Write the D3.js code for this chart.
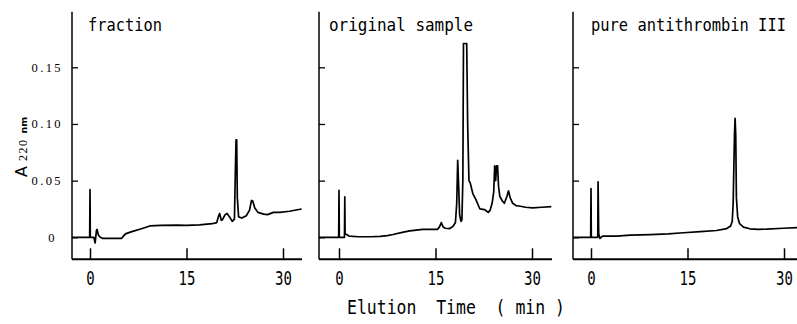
<!DOCTYPE html>
<html>
<head>
<meta charset="utf-8">
<script src="https://cdn.jsdelivr.net/npm/d3@7"></script>
<style>
body{margin:0;background:#fff}
.trace{fill:none;stroke:#000;stroke-width:1.7;stroke-linejoin:round}
.mono{font-family:"DejaVu Sans Mono",monospace;fill:#000}
</style>
</head>
<body>
<script>
var panelTitles = ["fraction", "original sample", "pure antithrombin III"];
var xTicks = [0, 15, 30];
var yTicks = [0, 0.05, 0.10, 0.15];
var yTickLabels = ["0", "0.05", "0.10", "0.15"];

// [time (min), A220]
var fractionTrace = [[-2.8,0],[-0.05,0],[0,0.042],[0.05,0],[0.6,0],[0.8,-0.005],[1.0,0.006],[1.1,0.007],[1.3,0.002],[1.6,0],
  [2,-0.001],[3,-0.001],[4.9,-0.001],[5.2,0.001],[5.5,0.003],[6.5,0.005],[8,0.0075],[9.3,0.0100],[11,0.0105],[13.5,0.0108],
  [15,0.0105],[17,0.011],[19,0.012],[19.7,0.013],[20.0,0.019],[20.15,0.021],[20.4,0.015],[20.6,0.0155],[21.0,0.020],[21.3,0.021],
  [21.7,0.018],[22.1,0.014],[22.45,0.016],[22.6,0.06],[22.7,0.086],[22.8,0.086],[22.9,0.035],[23.1,0.018],[23.6,0.017],[24.3,0.019],
  [24.8,0.024],[25.1,0.0325],[25.3,0.032],[25.6,0.026],[26.1,0.022],[27,0.0205],[27.6,0.020],[28.5,0.022],[29.5,0.022],[31,0.023],[32.9,0.025]];

var originalTrace = [[-3.1,0],[-0.05,0],[0,0.0415],[0.05,0],[0.85,0],[0.9,0.0356],[0.95,0.003],[1.2,0.0025],[1.6,0.001],[3,0.0005],
  [5,0.0005],[6.4,0.0008],[7.5,0.0015],[8.4,0.0025],[10,0.0045],[11,0.0056],[13,0.007],[15.3,0.007],[15.6,0.009],[15.9,0.013],
  [16.2,0.009],[16.5,0.008],[17.2,0.0077],[17.7,0.0095],[18.1,0.013],[18.3,0.03],[18.45,0.068],[18.6,0.045],[18.75,0.02],[18.95,0.014],
  [19.1,0.015],[19.25,0.05],[19.35,0.171],[19.85,0.171],[20.0,0.1],[20.2,0.05],[20.4,0.048],[20.8,0.0386],[21.3,0.033],[21.9,0.025],
  [22.6,0.0245],[23.2,0.022],[23.5,0.024],[23.8,0.030],[24.05,0.040],[24.2,0.063],[24.35,0.05],[24.5,0.063],[24.65,0.063],[24.8,0.045],
  [25,0.036],[25.4,0.032],[25.7,0.030],[26.1,0.036],[26.35,0.041],[26.6,0.035],[27,0.030],[27.5,0.028],[28,0.0276],[29,0.0265],
  [30.1,0.026],[31.5,0.0265],[33,0.027]];

var pureTrace = [[-2.8,0],[-0.05,0],[0,0.043],[0.05,0],[1.05,0],[1.1,0.049],[1.2,0.003],[1.4,-0.001],[1.8,0.001],[3,0.001],
  [4,0.001],[6.1,0.002],[9.2,0.0024],[12,0.003],[14.4,0.004],[17,0.005],[19.5,0.006],[21.1,0.0077],[21.7,0.01],[21.95,0.014],
  [22.1,0.03],[22.3,0.09],[22.4,0.105],[22.5,0.09],[22.6,0.035],[22.8,0.018],[23.1,0.012],[23.7,0.009],[24.7,0.0075],[26,0.007],
  [27.3,0.0072],[29.9,0.008],[32.1,0.0085]];

var traces = [fractionTrace, originalTrace, pureTrace];

// layout of the three panels (pixels)
var layout = [
  {left:72, zero:90, right:302, title:[88,74]},
  {left:319, zero:339, right:552, title:[329,144]},
  {left:573, zero:591, right:797, title:[591,195]}
];

var yScale = d3.scaleLinear().domain([0, 0.15]).range([237.3, 67.3]);
var yLo = -0.0194, yHi = 0.199;

var svg = d3.select("body").append("svg")
    .attr("width", 797)
    .attr("height", 324);

var line = d3.line();

layout.forEach(function(p, i){
  var xScale = d3.scaleLinear().domain([0, 15]).range([p.zero, p.zero + 96.5]);
  var g = svg.append("g");

  g.append("clipPath").attr("id", "clip" + i)
    .append("rect")
    .attr("x", p.left).attr("y", yScale(yHi))
    .attr("width", p.right - p.left).attr("height", yScale(yLo) - yScale(yHi));

  // y axis
  var yAxis = d3.axisLeft(yScale).tickValues(yTicks)
      .tickSizeInner(-6).tickSizeOuter(0).tickPadding(9)
      .tickFormat(function(d, k){ return i === 0 ? yTickLabels[k] : ""; });
  var ya = g.append("g").attr("transform", "translate(" + p.left + ",0)").call(yAxis);
  ya.select(".domain").remove();
  ya.selectAll(".tick line").attr("stroke", "#000").attr("stroke-width", 1.3);
  ya.selectAll("text")
    .attr("font-family", "'Liberation Serif', serif")
    .attr("font-size", 12.5)
    .attr("letter-spacing", "2.4px")
    .attr("fill", "#000");
  ya.selectAll(".tick").filter(function(d){ return d === 0; }).select("text").attr("x", -15);
  g.append("line")
    .attr("x1", p.left).attr("x2", p.left)
    .attr("y1", yScale(yHi)).attr("y2", yScale(yLo))
    .attr("stroke", "#000").attr("stroke-width", 1.5);

  // x axis
  var xAxis = d3.axisBottom(xScale).tickValues(xTicks)
      .tickSizeInner(-11).tickSizeOuter(0);
  var xa = g.append("g").attr("transform", "translate(0," + yScale(yLo) + ")").call(xAxis);
  xa.select(".domain").remove();
  xa.selectAll(".tick line").attr("stroke", "#000").attr("stroke-width", 1.5);
  xa.selectAll("text")
    .attr("y", null).attr("dy", null)
    .attr("class", "mono")
    .attr("font-size", 14)
    .attr("transform", "translate(0,26) scale(1,1.35)");
  g.append("line")
    .attr("x1", p.left).attr("x2", p.right)
    .attr("y1", yScale(yLo)).attr("y2", yScale(yLo))
    .attr("stroke", "#000").attr("stroke-width", 2);

  // trace
  line.x(function(d){ return xScale(d[0]); })
      .y(function(d){ return yScale(d[1]); });
  g.append("path").datum(traces[i])
    .attr("class", "trace")
    .attr("clip-path", "url(#clip" + i + ")")
    .attr("d", line);

  // panel title
  g.append("text")
    .attr("class", "mono")
    .attr("x", p.title[0]).attr("y", 25)
    .attr("font-size", 15)
    .attr("textLength", p.title[1])
    .attr("lengthAdjust", "spacingAndGlyphs")
    .attr("transform", "translate(0,1) scale(1,1.2)")
    .text(panelTitles[i]);
});

// y axis label
var yl = svg.append("text")
    .attr("transform", "translate(27,177) rotate(-90)")
    .attr("fill", "#000");
yl.append("tspan").attr("font-family", "'DejaVu Sans', sans-serif").attr("font-size", 16).text("A");
yl.append("tspan").attr("font-family", "'Liberation Serif', serif").attr("font-size", 12)
  .attr("letter-spacing", "1.5px").attr("dx", 5).text("220");
yl.append("tspan").attr("font-family", "'DejaVu Sans', sans-serif").attr("font-size", 9.5)
  .attr("font-weight", "bold").attr("dx", 5).text("nm");

// x axis title
svg.append("text")
  .attr("class", "mono")
  .attr("x", 347).attr("y", 313)
  .attr("font-size", 15)
  .attr("textLength", 218)
  .attr("lengthAdjust", "spacingAndGlyphs")
  .attr("transform", "translate(0,-87) scale(1,1.28)")
  .style("white-space", "pre")
  .text("Elution  Time  ( min )");
</script>
</body>
</html>
